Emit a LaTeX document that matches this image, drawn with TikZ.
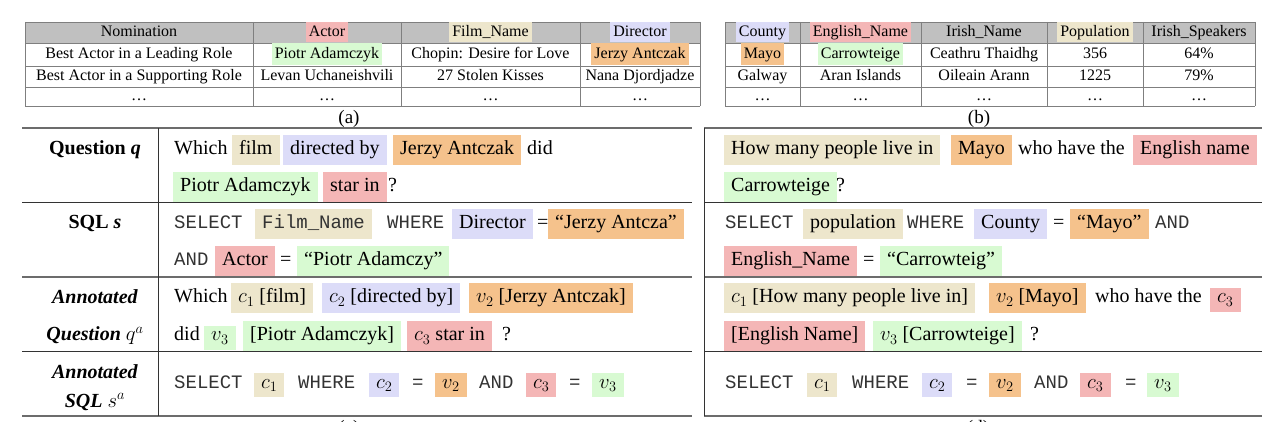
\documentclass[tikz,border=0pt]{standalone}
\usepackage{fontspec}
\setmainfont{Liberation Serif}
\setmonofont{Liberation Mono}
\definecolor{cbeige}{HTML}{EDE6CC}
\definecolor{clav}{HTML}{DCDCF8}
\definecolor{corange}{HTML}{F5C28C}
\definecolor{cgreen}{HTML}{D8FAD2}
\definecolor{cpink}{HTML}{F4B6B6}
\definecolor{chead}{HTML}{C0C0C0}
\definecolor{cgrid}{HTML}{7F7F7F}
\definecolor{cmono}{HTML}{333333}
\tikzset{
  every node/.style={inner sep=0pt},
  tcell/.style={font=\fontsize{16}{19}\selectfont, text height=11pt, text depth=3.5pt},
  thl/.style={tcell, fill=#1, inner xsep=3pt, minimum height=20pt},
  body/.style={font=\fontsize{20}{24}\selectfont, anchor=base west, text height=14.5pt, text depth=5pt, inner ysep=5pt},
  hl/.style={body, fill=#1, inner xsep=7pt},
  mono/.style={body, font=\fontsize{19}{24}\selectfont\ttfamily, text=cmono},
  mhl/.style={body, fill=#1, inner xsep=7pt, text height=10pt, text depth=4pt},
  lbl/.style={font=\fontsize{20}{24}\selectfont, anchor=base},
  subcap/.style={font=\fontsize{19}{23}\selectfont, anchor=base},
  grid line/.style={draw=cgrid, line width=0.9pt},
  heavy rule/.style={draw=gray!85!black, line width=1.6pt},
  light rule/.style={draw=black!80, line width=1pt},
}
\begin{document}
\begin{tikzpicture}[x=1pt,y=-1pt]
\useasboundingbox (0,0) rectangle (1278,422);

% ---------------- Table (a) ----------------
\fill[chead] (25,22) rectangle (700,43);
\foreach \yy in {22,43,66,87,106} \draw[grid line] (25,\yy) -- (700,\yy);
\foreach \xx in {25,253,401,580,700} \draw[grid line] (\xx,22) -- (\xx,106);
\node[tcell] (aH1) at (139,32.5) {Nomination};
\node[thl=cpink] (aH2) at (327,32.5) {Actor};
\node[thl=cbeige] (aH3) at (490.5,32.5) {Film\_Name};
\node[thl=clav] (aH4) at (640,32.5) {Director};
\node[tcell] (aA1) at (139,54.5) {Best Actor in a Leading Role};
\node[thl=cgreen, minimum height=22pt] (aA2) at (327,54.5) {Piotr Adamczyk};
\node[tcell] (aA3) at (490.5,54.5) {Chopin: Desire for Love};
\node[thl=corange, minimum height=22pt] (aA4) at (640,54.5) {Jerzy Antczak};
\node[tcell] (aB1) at (139,76.5) {Best Actor in a Supporting Role};
\node[tcell] (aB2) at (327,76.5) {Levan Uchaneishvili};
\node[tcell] (aB3) at (490.5,76.5) {27 Stolen Kisses};
\node[tcell] (aB4) at (640,76.5) {Nana Djordjadze};
\node[tcell] (aC1) at (139,96.5) {\ldots};
\node[tcell] (aC2) at (327,96.5) {\ldots};
\node[tcell] (aC3) at (490.5,96.5) {\ldots};
\node[tcell] (aC4) at (640,96.5) {\ldots};
\node[subcap] (capA) at (349,124) {(a)};

% ---------------- Table (b) ----------------
\fill[chead] (725,22) rectangle (1255,43);
\foreach \yy in {22,43,66,87,106} \draw[grid line] (725,\yy) -- (1255,\yy);
\foreach \xx in {725,800,921,1047,1143,1255} \draw[grid line] (\xx,22) -- (\xx,106);
\node[thl=clav] (bH1) at (762.5,32.5) {County};
\node[thl=cpink] (bH2) at (860.5,32.5) {English\_Name};
\node[tcell] (bH3) at (984,32.5) {Irish\_Name};
\node[thl=cbeige] (bH4) at (1095,32.5) {Population};
\node[tcell] (bH5) at (1199,32.5) {Irish\_Speakers};
\node[thl=corange, minimum height=22pt] (bA1) at (762.5,54.5) {Mayo};
\node[thl=cgreen, minimum height=22pt] (bA2) at (860.5,54.5) {Carrowteige};
\node[tcell] (bA3) at (984,54.5) {Ceathru Thaidhg};
\node[tcell] (bA4) at (1095,54.5) {356};
\node[tcell] (bA5) at (1199,54.5) {64\%};
\node[tcell] (bB1) at (762.5,76.5) {Galway};
\node[tcell] (bB2) at (860.5,76.5) {Aran Islands};
\node[tcell] (bB3) at (984,76.5) {Oileain Arann};
\node[tcell] (bB4) at (1095,76.5) {1225};
\node[tcell] (bB5) at (1199,76.5) {79\%};
\node[tcell] (bC1) at (762.5,96.5) {\ldots};
\node[tcell] (bC2) at (860.5,96.5) {\ldots};
\node[tcell] (bC3) at (984,96.5) {\ldots};
\node[tcell] (bC4) at (1095,96.5) {\ldots};
\node[tcell] (bC5) at (1199,96.5) {\ldots};
\node[subcap] (capB) at (979,124) {(b)};

% ---------------- Lower left table (c) ----------------
\draw[heavy rule] (22,128) -- (692,128);
\draw[light rule] (22,203) -- (692,203);
\draw[heavy rule] (22,277) -- (692,277);
\draw[light rule] (22,351) -- (692,351);
\draw[heavy rule] (22,416) -- (692,416);
\draw[light rule] (158,128) -- (158,416);

\node[lbl] (cL1) at (95,155) {\textbf{Question \textit{q}}};
\node[lbl] (cL2) at (95,229) {\textbf{SQL \textit{s}}};
\node[lbl] (cL3a) at (95,304) {\textbf{\textit{Annotated}}};
\node[lbl] (cL3b) at (95,341) {\textbf{\textit{Question}} $q^a$};
\node[lbl] (cL4a) at (95,378) {\textbf{\textit{Annotated}}};
\node[lbl] (cL4b) at (95,407) {\textbf{\textit{SQL}} $s^a$};

% row 1
\node[body] (c1a) at (174,155) {Which};
\node[hl=cbeige] (c1b) at (232,155) {film};
\node[hl=clav] (c1c) at (283,155) {directed by};
\node[hl=corange] (c1d) at (393,155) {Jerzy Antczak};
\node[body] (c1e) at (527,155) {did};
\node[hl=cgreen] (c1f) at (173,192) {Piotr Adamczyk};
\node[hl=cpink] (c1g) at (323,192) {star in};
\node[body] (c1h) at (388,192) {?};
% row 2
\node[mono] (c2a) at (174,229) {SELECT};
\node[hl=cbeige, font=\fontsize{19}{24}\selectfont\ttfamily, text=cmono] (c2b) at (255,229) {Film\_Name};
\node[mono] (c2c) at (387,229) {WHERE};
\node[hl=clav] (c2d) at (452,229) {Director};
\node[body] (c2e) at (537,229) {=};
\node[hl=corange] (c2f) at (548,229) {“Jerzy Antcza”};
\node[mono] (c2g) at (174,266) {AND};
\node[hl=cpink] (c2h) at (215,266) {Actor};
\node[body] (c2i) at (280,266) {=};
\node[hl=cgreen] (c2j) at (297,266) {“Piotr Adamczy”};
% row 3
\node[body] (c3a) at (174,303) {Which};
\node[hl=cbeige] (c3b) at (231,303) {$c_1$ [film]};
\node[hl=clav] (c3c) at (322,303) {$c_2$ [directed by]};
\node[hl=corange] (c3d) at (469,303) {$v_2$ [Jerzy Antczak]};
\node[body] (c3e) at (174,341) {did};
\node[mhl=cgreen] (c3f) at (204,341) {$v_3$};
\node[hl=cgreen] (c3g) at (243,341) {[Piotr Adamczyk]};
\node[hl=cpink] (c3h) at (407,341) {$c_3$ star in};
\node[body] (c3i) at (502,341) {?};
% row 4
\node[mono] (c4a) at (174,388) {SELECT};
\node[mhl=cbeige] (c4b) at (254,388) {$c_1$};
\node[mono] (c4c) at (298,388) {WHERE};
\node[mhl=clav] (c4d) at (369,388) {$c_2$};
\node[mono] (c4e) at (412,388) {=};
\node[mhl=corange] (c4f) at (435,388) {$v_2$};
\node[mono] (c4g) at (479,388) {AND};
\node[mhl=cpink] (c4h) at (526,388) {$c_3$};
\node[mono] (c4i) at (569,388) {=};
\node[mhl=cgreen] (c4j) at (592,388) {$v_3$};
\node[subcap] (capC) at (349,433) {(c)};

% ---------------- Lower right table (d) ----------------
\draw[heavy rule] (704,128) -- (1262,128);
\draw[light rule] (704,203) -- (1262,203);
\draw[heavy rule] (704,277) -- (1262,277);
\draw[light rule] (704,351) -- (1262,351);
\draw[heavy rule] (704,416) -- (1262,416);
\draw[light rule] (704,128) -- (704,416);

% row 1
\node[hl=cbeige] (d1a) at (724,155) {How many people live in};
\node[hl=corange] (d1b) at (951,155) {Mayo};
\node[body] (d1c) at (1018,155) {who have the};
\node[hl=cpink] (d1d) at (1133,155) {English name};
\node[hl=cgreen] (d1e) at (724,192) {Carrowteige};
\node[body] (d1f) at (836,192) {?};
% row 2
\node[mono] (d2a) at (725,229) {SELECT};
\node[hl=cbeige] (d2b) at (803,229) {population};
\node[mono] (d2c) at (907,229) {WHERE};
\node[hl=clav] (d2d) at (974,229) {County};
\node[body] (d2e) at (1053,229) {=};
\node[hl=corange] (d2f) at (1070,229) {“Mayo”};
\node[mono] (d2g) at (1155,229) {AND};
\node[hl=cpink] (d2h) at (724,266) {English\_Name};
\node[body] (d2i) at (863,266) {=};
\node[hl=cgreen] (d2j) at (880,266) {“Carrowteig”};
% row 3
\node[hl=cbeige] (d3a) at (724,303) {$c_1$ [How many people live in]};
\node[hl=corange] (d3b) at (989,303) {$v_2$ [Mayo]};
\node[body] (d3c) at (1095,303) {who have the};
\node[mhl=cpink] (d3d) at (1210,303) {$c_3$};
\node[hl=cpink] (d3e) at (724,341) {[English Name]};
\node[hl=cgreen] (d3f) at (873,341) {$v_3$ [Carrowteige]};
\node[body] (d3g) at (1030,341) {?};
% row 4
\node[mono] (d4a) at (725,388) {SELECT};
\node[mhl=cbeige] (d4b) at (807,388) {$c_1$};
\node[mono] (d4c) at (852,388) {WHERE};
\node[mhl=clav] (d4d) at (922,388) {$c_2$};
\node[mono] (d4e) at (966,388) {=};
\node[mhl=corange] (d4f) at (989,388) {$v_2$};
\node[mono] (d4g) at (1034,388) {AND};
\node[mhl=cpink] (d4h) at (1080,388) {$c_3$};
\node[mono] (d4i) at (1125,388) {=};
\node[mhl=cgreen] (d4j) at (1147,388) {$v_3$};
\node[subcap] (capD) at (978,433) {(d)};
\end{tikzpicture}
\end{document}
